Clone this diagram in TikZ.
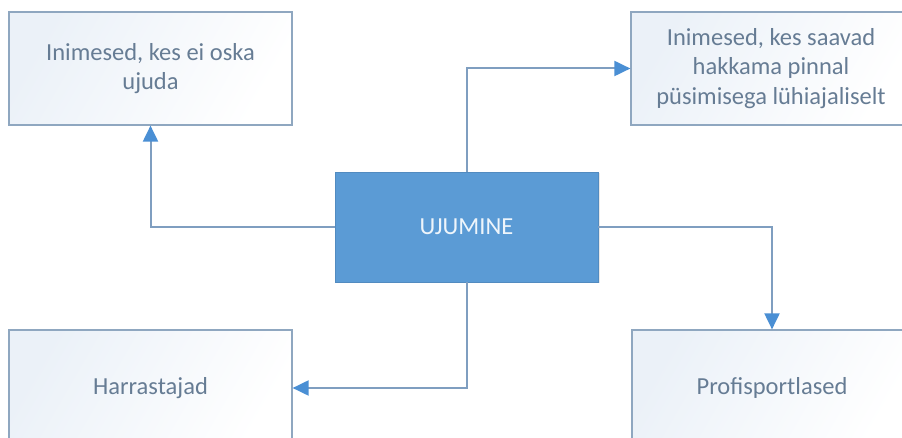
\documentclass[tikz,border=0pt]{standalone}
\usepackage{fontspec}
\setmainfont{Carlito}
\usetikzlibrary{arrows.meta,shadows}
\definecolor{hubfill}{HTML}{5B9BD5}
\definecolor{hubtext}{HTML}{EEF5FB}
\definecolor{boxline}{HTML}{8FA7C0}
\definecolor{boxtext}{HTML}{667C94}
\definecolor{boxtint}{HTML}{EBF1F8}
\definecolor{linkline}{HTML}{7F9EC0}
\definecolor{tipblue}{HTML}{4A8FD4}
\begin{document}
\begin{tikzpicture}[x=1pt,y=-1pt,
  leaf/.style={rectangle, draw=boxline, line width=1.2pt,
    left color=boxtint, right color=white, shading angle=60,
    minimum width=283pt, minimum height=113pt, inner sep=0pt,
    text=boxtext, font=\fontsize{24.5}{29.5}\selectfont, align=center},
  hub/.style={rectangle, fill=hubfill, draw=hubfill!90!black, line width=0.6pt,
    minimum width=263pt, minimum height=110pt, inner sep=0pt,
    text=hubtext, font=\fontsize{24.5}{29.5}\selectfont,
    drop shadow={opacity=0.18, shadow xshift=1.5pt, shadow yshift=-1.5pt}},
  link/.style={draw=linkline, line width=2pt,
    -{Triangle[length=16pt,width=15pt,color=tipblue]}}
]
\useasboundingbox (0,0) rectangle (902,438);

% outer boxes, some running past the page edge
\begin{scope}
  \clip (0,0) rectangle (902,438);
  \node[leaf] (unable) at (150.5,68.5) {Inimesed, kes ei oska\\ujuda};
  \node[leaf, minimum width=280pt] (short) at (771,68.5)
    {Inimesed, kes saavad\\hakkama pinnal\\püsimisega lühiajaliselt};
  \node[leaf, minimum height=116pt] (hobby) at (150.5,388) {Harrastajad};
  \node[leaf, minimum width=280pt, minimum height=116pt] (pro) at (772,388)
    {Profisportlased};
\end{scope}

% central topic
\node[hub] (swim) at (466.5,227) {UJUMINE};

% connectors
\draw[link] (swim.north) |- (short.west);
\draw[link] (swim.west) -| (unable.south);
\draw[link] (swim.east) -| (pro.north);
\draw[link] (swim.south) |- (hobby.east);
\end{tikzpicture}
\end{document}
